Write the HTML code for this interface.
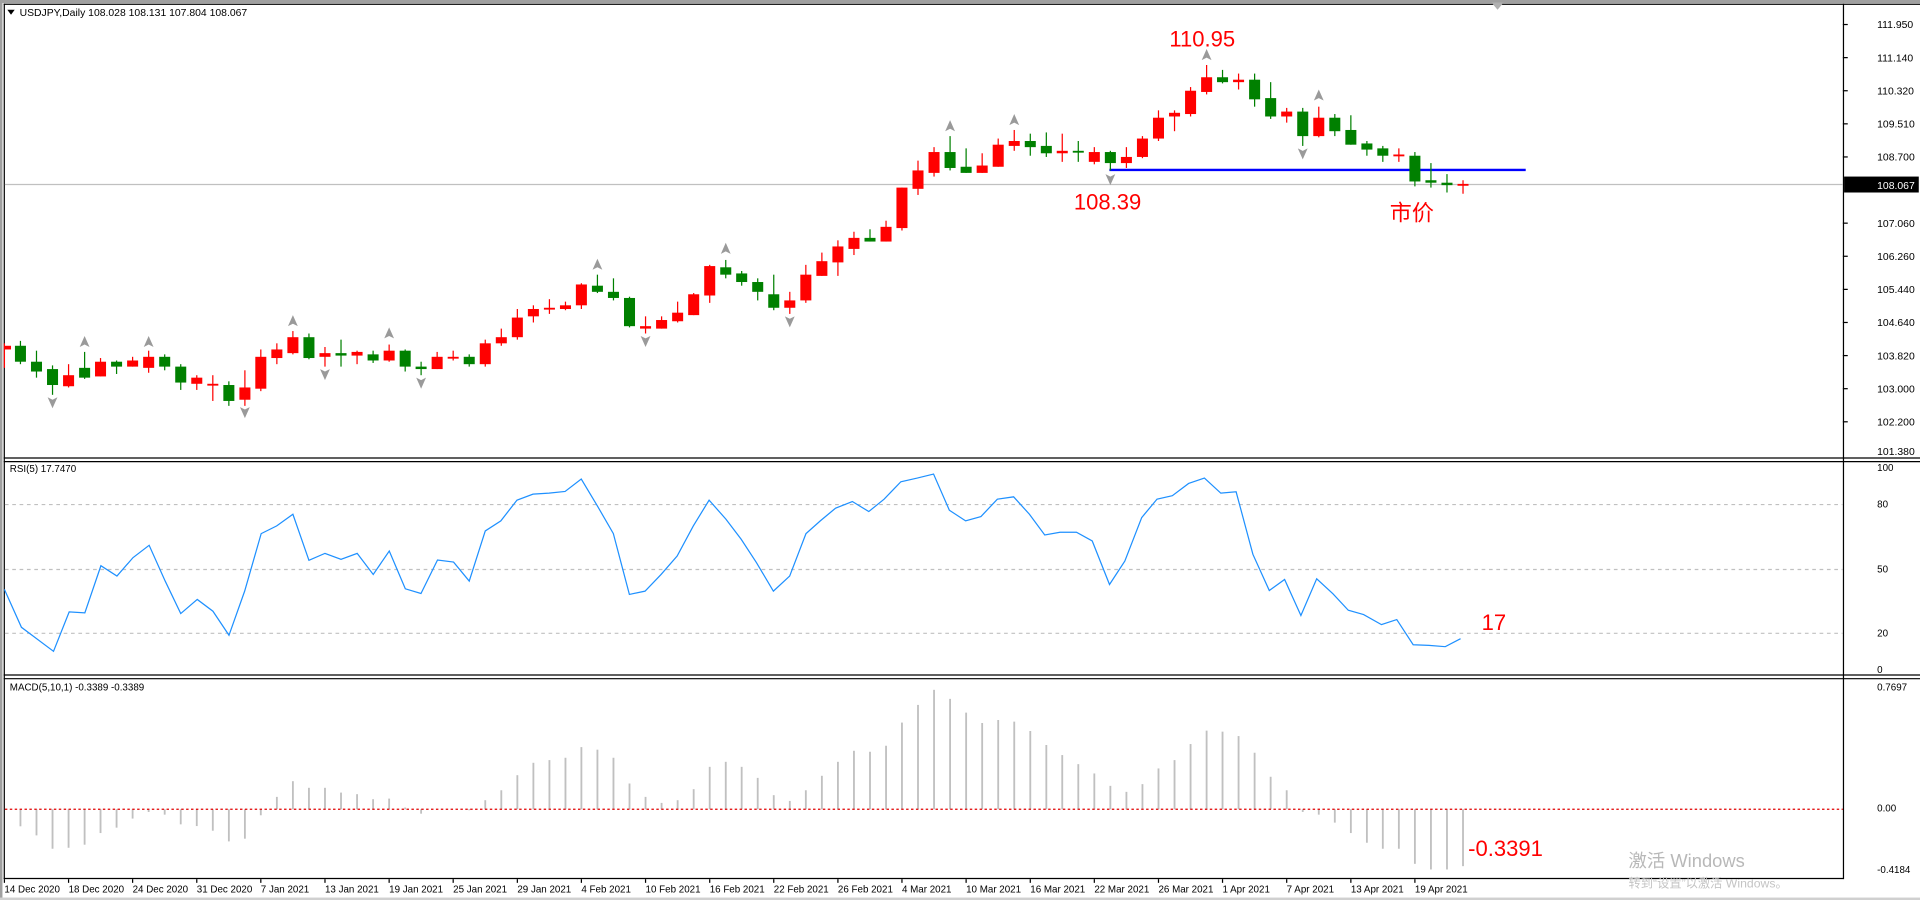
<!DOCTYPE html>
<html><head><meta charset="utf-8"><style>
html,body{margin:0;padding:0;background:#fff;width:1920px;height:900px;overflow:hidden}
svg{display:block}
text{font-family:"Liberation Sans","Noto Sans CJK SC",sans-serif}
</style></head><body>
<svg width="1920" height="900" viewBox="0 0 1568 734" preserveAspectRatio="none" xmlns="http://www.w3.org/2000/svg">
<rect x="0" y="0" width="1568" height="734" fill="#fff"/>
<rect x="0" y="0" width="1568" height="2.5" fill="#a0a0a0"/>
<rect x="0" y="0" width="2" height="734" fill="#a0a0a0"/>
<g stroke="#000" stroke-width="1" fill="none">
<line x1="3" y1="3.5" x2="1568" y2="3.5"/>
<line x1="3.5" y1="3" x2="3.5" y2="717"/>
<line x1="1505.5" y1="3" x2="1505.5" y2="717"/>
<line x1="3" y1="373.5" x2="1568" y2="373.5"/>
<line x1="3" y1="376.5" x2="1568" y2="376.5"/>
<line x1="3" y1="550.5" x2="1568" y2="550.5"/>
<line x1="3" y1="553.5" x2="1568" y2="553.5"/>
<line x1="3" y1="716.5" x2="1505.5" y2="716.5"/>
</g>
<rect x="0" y="732" width="1568" height="2" fill="#d0d0d0"/>
<polygon points="1218,2 1228,2 1223,8" fill="#b0b0b0"/>
<!-- header -->
<polygon points="6,8 12,8 9,12" fill="#000"/>
<text x="16" y="13" font-size="8.5" fill="#000">USDJPY,Daily  108.028 108.131 107.804 108.067</text>
<!-- price axis -->
<g font-size="8.5" fill="#000">
<text x="1533" y="23">111.950</text><text x="1533" y="50">111.140</text><text x="1533" y="77">110.320</text><text x="1533" y="104">109.510</text><text x="1533" y="131">108.700</text><text x="1533" y="185">107.060</text><text x="1533" y="212">106.260</text><text x="1533" y="239">105.440</text><text x="1533" y="266">104.640</text><text x="1533" y="293">103.820</text><text x="1533" y="320">103.000</text><text x="1533" y="347">102.200</text><text x="1533" y="371">101.380</text>
</g>
<g stroke="#000" stroke-width="1">
<line x1="1505" y1="20" x2="1509" y2="20"/><line x1="1505" y1="47" x2="1509" y2="47"/><line x1="1505" y1="74" x2="1509" y2="74"/><line x1="1505" y1="101" x2="1509" y2="101"/><line x1="1505" y1="128" x2="1509" y2="128"/><line x1="1505" y1="182" x2="1509" y2="182"/><line x1="1505" y1="209" x2="1509" y2="209"/><line x1="1505" y1="236" x2="1509" y2="236"/><line x1="1505" y1="263" x2="1509" y2="263"/><line x1="1505" y1="290" x2="1509" y2="290"/><line x1="1505" y1="317" x2="1509" y2="317"/><line x1="1505" y1="344" x2="1509" y2="344"/>
</g>
<line x1="4" y1="150.5" x2="1505" y2="150.5" stroke="#c0c0c0" stroke-width="1"/>
<rect x="1506" y="144" width="61" height="13" fill="#000"/>
<text x="1533" y="154" font-size="8.5" fill="#fff">108.067</text>
<!-- blue line -->
<line x1="906" y1="138.6" x2="1246" y2="138.6" stroke="#0000ff" stroke-width="2"/>
<!-- candles -->
<g id="c" stroke-width="1">
<g fill="#ff0000" stroke="#ff0000">
<line x1="3.6" y1="280" x2="3.6" y2="300"/><rect x="4" y="282" width="5" height="3" stroke="none"/>
<line x1="56" y1="297" x2="56" y2="316"/><rect x="51.5" y="306" width="9" height="9" stroke="none"/>
<line x1="82.1" y1="292" x2="82.1" y2="307"/><rect x="77.6" y="295" width="9" height="12" stroke="none"/>
<line x1="108.3" y1="291" x2="108.3" y2="299"/><rect x="103.8" y="294" width="9" height="5" stroke="none"/>
<line x1="121.4" y1="286" x2="121.4" y2="304"/><rect x="116.9" y="291" width="9" height="9" stroke="none"/>
<line x1="160.7" y1="306" x2="160.7" y2="318"/><rect x="156.2" y="308" width="9" height="5" stroke="none"/>
<line x1="173.8" y1="306" x2="173.8" y2="327"/><rect x="169.3" y="313" width="9" height="1.5" stroke="none"/>
<line x1="200" y1="302" x2="200" y2="331"/><rect x="195.5" y="316" width="9" height="10" stroke="none"/>
<line x1="213" y1="285" x2="213" y2="319"/><rect x="208.5" y="291" width="9" height="26" stroke="none"/>
<line x1="226.1" y1="280" x2="226.1" y2="297"/><rect x="221.6" y="285" width="9" height="7" stroke="none"/>
<line x1="239.2" y1="270" x2="239.2" y2="289"/><rect x="234.7" y="275" width="9" height="13" stroke="none"/>
<line x1="265.4" y1="283" x2="265.4" y2="299"/><rect x="260.9" y="288" width="9" height="3" stroke="none"/>
<line x1="291.6" y1="286" x2="291.6" y2="297"/><rect x="287.1" y="287" width="9" height="3" stroke="none"/>
<line x1="317.8" y1="281" x2="317.8" y2="295"/><rect x="313.3" y="286" width="9" height="8" stroke="none"/>
<line x1="357" y1="287" x2="357" y2="301"/><rect x="352.5" y="291" width="9" height="10" stroke="none"/>
<line x1="370.1" y1="286" x2="370.1" y2="294"/><rect x="365.6" y="291" width="9" height="1.5" stroke="none"/>
<line x1="396.3" y1="277" x2="396.3" y2="299"/><rect x="391.8" y="280" width="9" height="17" stroke="none"/>
<line x1="409.4" y1="268" x2="409.4" y2="282"/><rect x="404.9" y="275" width="9" height="5" stroke="none"/>
<line x1="422.5" y1="252" x2="422.5" y2="277"/><rect x="418" y="259" width="9" height="16" stroke="none"/>
<line x1="435.6" y1="249" x2="435.6" y2="263"/><rect x="431.1" y="252" width="9" height="6" stroke="none"/>
<line x1="448.7" y1="244" x2="448.7" y2="256"/><rect x="444.2" y="251" width="9" height="1.5" stroke="none"/>
<line x1="461.8" y1="246" x2="461.8" y2="253"/><rect x="457.3" y="249" width="9" height="3" stroke="none"/>
<line x1="474.8" y1="231" x2="474.8" y2="252"/><rect x="470.3" y="232" width="9" height="17" stroke="none"/>
<line x1="527.2" y1="258" x2="527.2" y2="272"/><rect x="522.7" y="266" width="9" height="2" stroke="none"/>
<line x1="540.3" y1="258" x2="540.3" y2="268"/><rect x="535.8" y="261" width="9" height="7" stroke="none"/>
<line x1="553.4" y1="246" x2="553.4" y2="263"/><rect x="548.9" y="255" width="9" height="7" stroke="none"/>
<line x1="566.5" y1="239" x2="566.5" y2="257"/><rect x="562" y="240" width="9" height="17" stroke="none"/>
<line x1="579.6" y1="216" x2="579.6" y2="247"/><rect x="575.1" y="217" width="9" height="24" stroke="none"/>
<line x1="645" y1="238" x2="645" y2="256"/><rect x="640.5" y="245" width="9" height="6" stroke="none"/>
<line x1="658.1" y1="216" x2="658.1" y2="247"/><rect x="653.6" y="224" width="9" height="21" stroke="none"/>
<line x1="671.2" y1="206" x2="671.2" y2="225"/><rect x="666.7" y="213" width="9" height="12" stroke="none"/>
<line x1="684.3" y1="196" x2="684.3" y2="225"/><rect x="679.8" y="201" width="9" height="13" stroke="none"/>
<line x1="697.4" y1="189" x2="697.4" y2="208"/><rect x="692.9" y="194" width="9" height="9" stroke="none"/>
<line x1="723.6" y1="180" x2="723.6" y2="197"/><rect x="719.1" y="185" width="9" height="12" stroke="none"/>
<line x1="736.6" y1="153" x2="736.6" y2="188"/><rect x="732.1" y="153" width="9" height="33" stroke="none"/>
<line x1="749.7" y1="131" x2="749.7" y2="159"/><rect x="745.2" y="139" width="9" height="15" stroke="none"/>
<line x1="762.8" y1="120" x2="762.8" y2="144"/><rect x="758.3" y="124" width="9" height="17" stroke="none"/>
<line x1="802.1" y1="125" x2="802.1" y2="141"/><rect x="797.6" y="135" width="9" height="6" stroke="none"/>
<line x1="815.2" y1="113" x2="815.2" y2="136"/><rect x="810.7" y="118" width="9" height="18" stroke="none"/>
<line x1="828.3" y1="106" x2="828.3" y2="123"/><rect x="823.8" y="115" width="9" height="4" stroke="none"/>
<line x1="867.5" y1="109" x2="867.5" y2="132"/><rect x="863" y="123" width="9" height="2" stroke="none"/>
<line x1="893.7" y1="120" x2="893.7" y2="134"/><rect x="889.2" y="124" width="9" height="8" stroke="none"/>
<line x1="919.9" y1="120" x2="919.9" y2="137"/><rect x="915.4" y="128" width="9" height="5" stroke="none"/>
<line x1="933" y1="111" x2="933" y2="129"/><rect x="928.5" y="113" width="9" height="15" stroke="none"/>
<line x1="946.1" y1="90" x2="946.1" y2="115"/><rect x="941.6" y="96" width="9" height="17" stroke="none"/>
<line x1="959.2" y1="90" x2="959.2" y2="107"/><rect x="954.7" y="92" width="9" height="3" stroke="none"/>
<line x1="972.3" y1="71" x2="972.3" y2="95"/><rect x="967.8" y="74" width="9" height="19" stroke="none"/>
<line x1="985.4" y1="53" x2="985.4" y2="77"/><rect x="980.9" y="63" width="9" height="12" stroke="none"/>
<line x1="1011.5" y1="60" x2="1011.5" y2="73"/><rect x="1007" y="65" width="9" height="2" stroke="none"/>
<line x1="1050.8" y1="88" x2="1050.8" y2="100"/><rect x="1046.3" y="91" width="9" height="4" stroke="none"/>
<line x1="1077" y1="87" x2="1077" y2="112"/><rect x="1072.5" y="96" width="9" height="15" stroke="none"/>
<line x1="1142.4" y1="121" x2="1142.4" y2="132"/><rect x="1137.9" y="126" width="9" height="1.5" stroke="none"/>
<line x1="1194.8" y1="147" x2="1194.8" y2="158"/><rect x="1190.3" y="150" width="9" height="1.5" stroke="none"/>
</g>
<g fill="#008000" stroke="#008000">
<line x1="16.7" y1="278" x2="16.7" y2="297"/><rect x="12.2" y="282" width="9" height="13" stroke="none"/>
<line x1="29.8" y1="286" x2="29.8" y2="308"/><rect x="25.3" y="295" width="9" height="8" stroke="none"/>
<line x1="42.9" y1="298" x2="42.9" y2="322"/><rect x="38.4" y="301" width="9" height="13" stroke="none"/>
<line x1="69.1" y1="287" x2="69.1" y2="309"/><rect x="64.6" y="300" width="9" height="8" stroke="none"/>
<line x1="95.2" y1="294" x2="95.2" y2="305"/><rect x="90.7" y="295" width="9" height="4" stroke="none"/>
<line x1="134.5" y1="289" x2="134.5" y2="302"/><rect x="130" y="291" width="9" height="8" stroke="none"/>
<line x1="147.6" y1="297" x2="147.6" y2="318"/><rect x="143.1" y="299" width="9" height="13" stroke="none"/>
<line x1="186.9" y1="311" x2="186.9" y2="331"/><rect x="182.4" y="314" width="9" height="13" stroke="none"/>
<line x1="252.3" y1="272" x2="252.3" y2="293"/><rect x="247.8" y="275" width="9" height="17" stroke="none"/>
<line x1="278.5" y1="277" x2="278.5" y2="299"/><rect x="274" y="288" width="9" height="2" stroke="none"/>
<line x1="304.7" y1="286" x2="304.7" y2="296"/><rect x="300.2" y="289" width="9" height="5" stroke="none"/>
<line x1="330.9" y1="285" x2="330.9" y2="303"/><rect x="326.4" y="286" width="9" height="13" stroke="none"/>
<line x1="343.9" y1="295" x2="343.9" y2="306"/><rect x="339.4" y="299" width="9" height="2" stroke="none"/>
<line x1="383.2" y1="289" x2="383.2" y2="299"/><rect x="378.7" y="291" width="9" height="6" stroke="none"/>
<line x1="487.9" y1="224" x2="487.9" y2="239"/><rect x="483.4" y="233" width="9" height="5" stroke="none"/>
<line x1="501" y1="227" x2="501" y2="245"/><rect x="496.5" y="238" width="9" height="5" stroke="none"/>
<line x1="514.1" y1="242" x2="514.1" y2="267"/><rect x="509.6" y="243" width="9" height="23" stroke="none"/>
<line x1="592.7" y1="212" x2="592.7" y2="227"/><rect x="588.2" y="218" width="9" height="6" stroke="none"/>
<line x1="605.7" y1="221" x2="605.7" y2="233"/><rect x="601.2" y="223" width="9" height="7" stroke="none"/>
<line x1="618.8" y1="227" x2="618.8" y2="245"/><rect x="614.3" y="230" width="9" height="8" stroke="none"/>
<line x1="631.9" y1="224" x2="631.9" y2="253"/><rect x="627.4" y="240" width="9" height="11" stroke="none"/>
<line x1="710.5" y1="187" x2="710.5" y2="197"/><rect x="706" y="194" width="9" height="3" stroke="none"/>
<line x1="775.9" y1="111" x2="775.9" y2="139"/><rect x="771.4" y="124" width="9" height="13" stroke="none"/>
<line x1="789" y1="121" x2="789" y2="141"/><rect x="784.5" y="136" width="9" height="5" stroke="none"/>
<line x1="841.4" y1="109" x2="841.4" y2="127"/><rect x="836.9" y="115" width="9" height="5" stroke="none"/>
<line x1="854.5" y1="108" x2="854.5" y2="128"/><rect x="850" y="119" width="9" height="6" stroke="none"/>
<line x1="880.6" y1="115" x2="880.6" y2="132"/><rect x="876.1" y="123" width="9" height="1.5" stroke="none"/>
<line x1="906.8" y1="123" x2="906.8" y2="139"/><rect x="902.3" y="124" width="9" height="9" stroke="none"/>
<line x1="998.4" y1="57" x2="998.4" y2="68"/><rect x="993.9" y="63" width="9" height="4" stroke="none"/>
<line x1="1024.6" y1="60" x2="1024.6" y2="87"/><rect x="1020.1" y="65" width="9" height="16" stroke="none"/>
<line x1="1037.7" y1="67" x2="1037.7" y2="97"/><rect x="1033.2" y="80" width="9" height="15" stroke="none"/>
<line x1="1063.9" y1="88" x2="1063.9" y2="119"/><rect x="1059.4" y="91" width="9" height="20" stroke="none"/>
<line x1="1090.1" y1="93" x2="1090.1" y2="111"/><rect x="1085.6" y="96" width="9" height="11" stroke="none"/>
<line x1="1103.2" y1="94" x2="1103.2" y2="118"/><rect x="1098.7" y="106" width="9" height="12" stroke="none"/>
<line x1="1116.3" y1="115" x2="1116.3" y2="127"/><rect x="1111.8" y="117" width="9" height="5" stroke="none"/>
<line x1="1129.3" y1="119" x2="1129.3" y2="132"/><rect x="1124.8" y="121" width="9" height="6" stroke="none"/>
<line x1="1155.5" y1="124" x2="1155.5" y2="152"/><rect x="1151" y="127" width="9" height="21" stroke="none"/>
<line x1="1168.6" y1="133" x2="1168.6" y2="153"/><rect x="1164.1" y="147" width="9" height="2" stroke="none"/>
<line x1="1181.7" y1="142" x2="1181.7" y2="157"/><rect x="1177.2" y="149" width="9" height="2" stroke="none"/>
</g>
</g>
<!-- fractal arrows -->
<g fill="#9a9a9a">
<polygon points="69.1,274 73.1,283 69.1,281 65.1,283"/>
<polygon points="121.4,274 125.4,283 121.4,281 117.4,283"/>
<polygon points="239.2,257 243.2,266 239.2,264 235.2,266"/>
<polygon points="317.8,267 321.8,276 317.8,274 313.8,276"/>
<polygon points="487.9,211 491.9,220 487.9,218 483.9,220"/>
<polygon points="592.7,198 596.7,207 592.7,205 588.7,207"/>
<polygon points="775.9,98 779.9,107 775.9,105 771.9,107"/>
<polygon points="828.3,93 832.3,102 828.3,100 824.3,102"/>
<polygon points="985.4,40 989.4,49 985.4,47 981.4,49"/>
<polygon points="1077,73 1081,82 1077,80 1073,82"/>
<polygon points="42.9,333 46.9,324 42.9,326 38.9,324"/>
<polygon points="200,341 204,332 200,334 196,332"/>
<polygon points="265.4,310 269.4,301 265.4,303 261.4,301"/>
<polygon points="343.9,317 347.9,308 343.9,310 339.9,308"/>
<polygon points="527.2,283 531.2,274 527.2,276 523.2,274"/>
<polygon points="645,267 649,258 645,260 641,258"/>
<polygon points="906.8,151 910.8,142 906.8,144 902.8,142"/>
<polygon points="1063.9,130 1067.9,121 1063.9,123 1059.9,121"/>
</g>
<g fill="#ff0000" font-size="18">
<text x="955" y="38">110.95</text>
<text x="877" y="171">108.39</text>
<text x="1135" y="180">市价</text>
<text x="1210" y="514">17</text>
<text x="1199" y="698">-0.3391</text>
</g>
<!-- RSI -->
<text x="8" y="385" font-size="8" fill="#000">RSI(5) 17.7470</text>
<g stroke="#c0c0c0" stroke-dasharray="3,3" stroke-width="1">
<line x1="4" y1="411.5" x2="1505" y2="411.5"/><line x1="4" y1="464.5" x2="1505" y2="464.5"/><line x1="4" y1="516.5" x2="1505" y2="516.5"/>
</g>
<g font-size="8" fill="#000">
<text x="1533" y="384">100</text><text x="1533" y="414">80</text><text x="1533" y="467">50</text><text x="1533" y="519">20</text><text x="1533" y="549">0</text>
</g>
<polyline fill="none" stroke="#1e90ff" stroke-width="1" points="3.6,480.7 17.5,511.6 43.7,531.2 56.5,499 69.3,499.8 82.4,461.4 95.5,469.8 108.6,454.8 121.8,444.7 134.9,473.9 147.6,500.4 161.1,488.9 173.9,498.5 187,518.1 199.8,482.1 213.3,435.2 226,428.9 239.2,419.4 252.3,457 265.4,451.3 278.5,456.2 291.7,451.3 304.8,468.5 317.9,449.4 331,480.2 343.8,484 357.3,456.7 370.4,458.4 383.2,473.9 396.3,433 409,424.8 422.2,407.9 435.3,403 448.4,402.2 461.5,400.8 474.7,390.7 487.8,412.5 500.9,435.2 514,484.8 526.8,482.1 539.9,468.5 553,453.5 566.2,428.9 579.1,407.9 592.8,423.4 605.3,439.8 617.8,458.9 631.6,482.1 644.9,469.8 658.2,435.2 669.9,424.8 682.4,414.4 696.1,409 709.5,417.2 722,407.1 735.7,392.9 749.1,389.9 762.4,386.6 775.3,416.1 788.6,424.8 801.1,421.3 814.5,407.1 827.8,405.2 840.7,419.4 853.2,436.3 865.7,434.1 879.1,434.1 892,441.2 906.1,476.7 918.6,457.6 932.4,422.1 944.9,407.1 957.4,404.3 970.7,394.3 983.6,389.9 997,402.2 1009.5,401.1 1023.2,452.1 1036.6,481.6 1049.1,472.6 1062.4,502 1075.3,472 1088.6,484.3 1101.1,497.7 1113.6,501.2 1128.2,509.4 1140.7,505.3 1154.1,525.8 1167,526.3 1180.3,527.4 1192.8,520.9"/>
<!-- MACD -->
<text x="8" y="563" font-size="8" fill="#000">MACD(5,10,1) -0.3389 -0.3389</text>
<g font-size="8" fill="#000">
<text x="1533" y="563">0.7697</text><text x="1533" y="662">0.00</text><text x="1533" y="712">-0.4184</text>
</g>
<g stroke="#c0c0c0" stroke-width="1.5">
<line x1="16.7" y1="660" x2="16.7" y2="673.9"/><line x1="29.8" y1="660" x2="29.8" y2="681.3"/><line x1="42.9" y1="660" x2="42.9" y2="692.2"/><line x1="56" y1="660" x2="56" y2="691.4"/><line x1="69.1" y1="660" x2="69.1" y2="688.9"/><line x1="82.1" y1="660" x2="82.1" y2="679.4"/><line x1="95.2" y1="660" x2="95.2" y2="675"/><line x1="108.3" y1="660" x2="108.3" y2="667.6"/><line x1="121.4" y1="660" x2="121.4" y2="662.2"/><line x1="134.5" y1="660" x2="134.5" y2="664.4"/><line x1="147.6" y1="660" x2="147.6" y2="672.3"/><line x1="160.7" y1="660" x2="160.7" y2="673.7"/><line x1="173.8" y1="660" x2="173.8" y2="677.5"/><line x1="186.9" y1="660" x2="186.9" y2="686.2"/><line x1="200" y1="660" x2="200" y2="684"/><line x1="213" y1="660" x2="213" y2="664.9"/>
<line x1="226.1" y1="660" x2="226.1" y2="649.9"/><line x1="239.2" y1="660" x2="239.2" y2="637.1"/><line x1="252.3" y1="660" x2="252.3" y2="642.5"/><line x1="265.4" y1="660" x2="265.4" y2="642.5"/><line x1="278.5" y1="660" x2="278.5" y2="646.4"/><line x1="291.6" y1="660" x2="291.6" y2="647.7"/><line x1="304.7" y1="660" x2="304.7" y2="651.8"/><line x1="317.8" y1="660" x2="317.8" y2="651.3"/><line x1="330.9" y1="660" x2="330.9" y2="658.6"/><line x1="343.9" y1="660" x2="343.9" y2="663.6"/><line x1="383.2" y1="660" x2="383.2" y2="660.8"/><line x1="396.3" y1="660" x2="396.3" y2="652.6"/><line x1="409.4" y1="660" x2="409.4" y2="644.5"/><line x1="422.5" y1="660" x2="422.5" y2="632.2"/><line x1="435.6" y1="660" x2="435.6" y2="622.1"/><line x1="448.7" y1="660" x2="448.7" y2="619.9"/><line x1="461.8" y1="660" x2="461.8" y2="618"/><line x1="474.8" y1="660" x2="474.8" y2="609.3"/><line x1="487.9" y1="660" x2="487.9" y2="611.4"/><line x1="501" y1="660" x2="501" y2="618"/><line x1="514.1" y1="660" x2="514.1" y2="639"/><line x1="527.2" y1="660" x2="527.2" y2="649.9"/><line x1="540.3" y1="660" x2="540.3" y2="654.8"/><line x1="553.4" y1="660" x2="553.4" y2="652.6"/><line x1="566.5" y1="660" x2="566.5" y2="643.6"/><line x1="579.6" y1="660" x2="579.6" y2="625.4"/><line x1="592.7" y1="660" x2="592.7" y2="621.3"/><line x1="605.7" y1="660" x2="605.7" y2="625.4"/><line x1="618.8" y1="660" x2="618.8" y2="634.4"/><line x1="631.9" y1="660" x2="631.9" y2="648.5"/><line x1="645" y1="660" x2="645" y2="653.2"/><line x1="658.1" y1="660" x2="658.1" y2="644.5"/><line x1="671.2" y1="660" x2="671.2" y2="632.7"/><line x1="684.3" y1="660" x2="684.3" y2="621.3"/><line x1="697.4" y1="660" x2="697.4" y2="612.3"/><line x1="710.5" y1="660" x2="710.5" y2="613.1"/><line x1="723.6" y1="660" x2="723.6" y2="608.2"/><line x1="736.6" y1="660" x2="736.6" y2="589.3"/><line x1="749.7" y1="660" x2="749.7" y2="574.9"/><line x1="762.8" y1="660" x2="762.8" y2="562.6"/><line x1="775.9" y1="660" x2="775.9" y2="570"/><line x1="789" y1="660" x2="789" y2="581.2"/><line x1="802.1" y1="660" x2="802.1" y2="589.6"/><line x1="815.2" y1="660" x2="815.2" y2="587.2"/><line x1="828.3" y1="660" x2="828.3" y2="588.5"/><line x1="841.4" y1="660" x2="841.4" y2="596.2"/><line x1="854.5" y1="660" x2="854.5" y2="607.6"/><line x1="867.5" y1="660" x2="867.5" y2="615.8"/><line x1="880.6" y1="660" x2="880.6" y2="623.2"/><line x1="893.7" y1="660" x2="893.7" y2="630.8"/><line x1="906.8" y1="660" x2="906.8" y2="640.9"/><line x1="919.9" y1="660" x2="919.9" y2="645.8"/><line x1="933" y1="660" x2="933" y2="639.5"/><line x1="946.1" y1="660" x2="946.1" y2="626.7"/><line x1="959.2" y1="660" x2="959.2" y2="619.9"/><line x1="972.3" y1="660" x2="972.3" y2="606.8"/><line x1="985.4" y1="660" x2="985.4" y2="595.9"/><line x1="998.4" y1="660" x2="998.4" y2="596.7"/><line x1="1011.5" y1="660" x2="1011.5" y2="600.3"/><line x1="1024.6" y1="660" x2="1024.6" y2="613.9"/><line x1="1037.7" y1="660" x2="1037.7" y2="633.5"/><line x1="1050.8" y1="660" x2="1050.8" y2="644.5"/>
<line x1="1063.9" y1="660" x2="1063.9" y2="662.2"/><line x1="1077" y1="660" x2="1077" y2="664.4"/><line x1="1090.1" y1="660" x2="1090.1" y2="670.9"/><line x1="1103.2" y1="660" x2="1103.2" y2="679.4"/><line x1="1116.3" y1="660" x2="1116.3" y2="687.3"/><line x1="1129.3" y1="660" x2="1129.3" y2="692.2"/><line x1="1142.4" y1="660" x2="1142.4" y2="692.2"/><line x1="1155.5" y1="660" x2="1155.5" y2="704.5"/><line x1="1168.6" y1="660" x2="1168.6" y2="709.1"/><line x1="1181.7" y1="660" x2="1181.7" y2="709.1"/><line x1="1194.8" y1="660" x2="1194.8" y2="706.4"/>
</g>
<line x1="4" y1="660" x2="1505" y2="660" stroke="#e00000" stroke-width="1" stroke-dasharray="2,2"/>
<!-- date axis -->
<g stroke="#000" stroke-width="1">
<line x1="3.6" y1="717" x2="3.6" y2="720"/><line x1="56" y1="717" x2="56" y2="720"/><line x1="108.3" y1="717" x2="108.3" y2="720"/><line x1="160.7" y1="717" x2="160.7" y2="720"/><line x1="213" y1="717" x2="213" y2="720"/><line x1="265.4" y1="717" x2="265.4" y2="720"/><line x1="317.8" y1="717" x2="317.8" y2="720"/><line x1="370.1" y1="717" x2="370.1" y2="720"/><line x1="422.5" y1="717" x2="422.5" y2="720"/><line x1="474.8" y1="717" x2="474.8" y2="720"/><line x1="527.2" y1="717" x2="527.2" y2="720"/><line x1="579.6" y1="717" x2="579.6" y2="720"/><line x1="631.9" y1="717" x2="631.9" y2="720"/><line x1="684.3" y1="717" x2="684.3" y2="720"/><line x1="736.6" y1="717" x2="736.6" y2="720"/><line x1="789" y1="717" x2="789" y2="720"/><line x1="841.4" y1="717" x2="841.4" y2="720"/><line x1="893.7" y1="717" x2="893.7" y2="720"/><line x1="946.1" y1="717" x2="946.1" y2="720"/><line x1="998.4" y1="717" x2="998.4" y2="720"/><line x1="1050.8" y1="717" x2="1050.8" y2="720"/><line x1="1103.2" y1="717" x2="1103.2" y2="720"/><line x1="1155.5" y1="717" x2="1155.5" y2="720"/>
</g>
<g font-size="8" fill="#000">
<text x="3.6" y="728">14 Dec 2020</text><text x="56" y="728">18 Dec 2020</text><text x="108.3" y="728">24 Dec 2020</text><text x="160.7" y="728">31 Dec 2020</text><text x="213" y="728">7 Jan 2021</text><text x="265.4" y="728">13 Jan 2021</text><text x="317.8" y="728">19 Jan 2021</text><text x="370.1" y="728">25 Jan 2021</text><text x="422.5" y="728">29 Jan 2021</text><text x="474.8" y="728">4 Feb 2021</text><text x="527.2" y="728">10 Feb 2021</text><text x="579.6" y="728">16 Feb 2021</text><text x="631.9" y="728">22 Feb 2021</text><text x="684.3" y="728">26 Feb 2021</text><text x="736.6" y="728">4 Mar 2021</text><text x="789" y="728">10 Mar 2021</text><text x="841.4" y="728">16 Mar 2021</text><text x="893.7" y="728">22 Mar 2021</text><text x="946.1" y="728">26 Mar 2021</text><text x="998.4" y="728">1 Apr 2021</text><text x="1050.8" y="728">7 Apr 2021</text><text x="1103.2" y="728">13 Apr 2021</text><text x="1155.5" y="728">19 Apr 2021</text>
</g>
<!-- watermark -->
<text x="1330" y="707" font-size="15" fill="#b8b8b8">激活 Windows</text>
<text x="1330" y="724" font-size="10" fill="#c4c4c4">转到“设置”以激活 Windows。</text>
</svg>
</body></html>
